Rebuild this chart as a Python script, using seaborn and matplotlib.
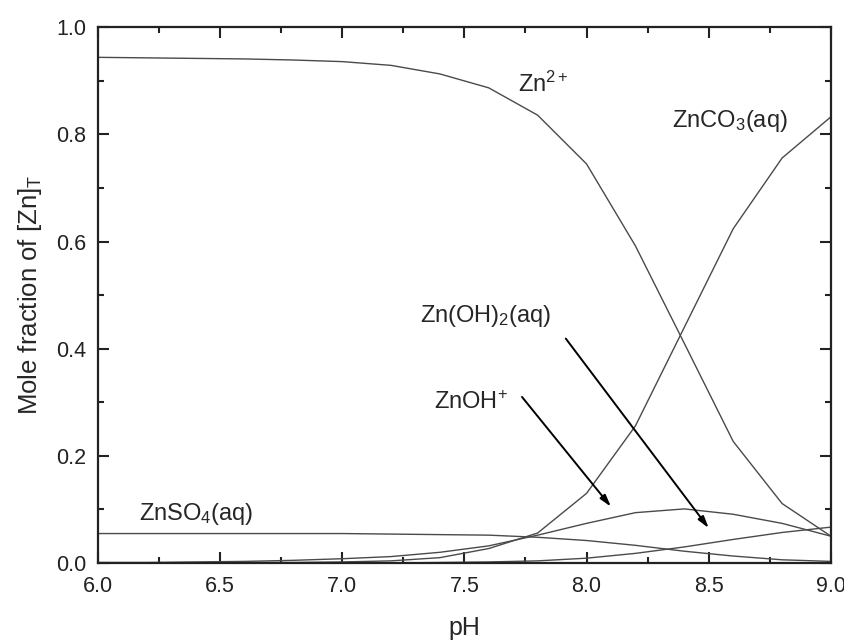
import numpy as np
import pandas as pd
import matplotlib
matplotlib.use("Agg")
import matplotlib.pyplot as plt
import seaborn as sns
from matplotlib.ticker import MultipleLocator, FormatStrFormatter

# speciation of zinc vs pH
ph = [6.0, 6.2, 6.4, 6.6, 6.8, 7.0, 7.2, 7.4, 7.6, 7.8, 8.0, 8.2, 8.4, 8.6, 8.8, 9.0]
zn2 = [0.944, 0.943, 0.942, 0.941, 0.939, 0.936, 0.929, 0.913, 0.887, 0.836,
       0.745, 0.592, 0.41, 0.227, 0.111, 0.05]
znco3 = [0.0, 0.0, 0.0, 0.001, 0.001, 0.002, 0.004, 0.010, 0.027, 0.056,
         0.130, 0.256, 0.44, 0.624, 0.756, 0.833]
znoh = [0.001, 0.001, 0.002, 0.003, 0.005, 0.008, 0.012, 0.02, 0.032, 0.052,
        0.074, 0.094, 0.101, 0.091, 0.074, 0.05]
znso4 = [0.055, 0.055, 0.055, 0.055, 0.055, 0.055, 0.054, 0.053, 0.052, 0.048,
         0.042, 0.033, 0.022, 0.013, 0.006, 0.003]
znoh2 = [0.0, 0.0, 0.0, 0.0, 0.0, 0.0, 0.0, 0.001, 0.002, 0.004,
         0.009, 0.018, 0.030, 0.044, 0.057, 0.067]

species = {
    "Zn2+": zn2,
    "ZnCO3": znco3,
    "ZnOH+": znoh,
    "ZnSO4": znso4,
    "Zn(OH)2": znoh2,
}

df = pd.concat(
    [pd.DataFrame({"pH": ph, "frac": v, "species": k}) for k, v in species.items()],
    ignore_index=True,
)

sns.set_style("ticks")
plt.rcParams["font.family"] = ["Liberation Sans", "DejaVu Sans"]
plt.rcParams["mathtext.fontset"] = "custom"
plt.rcParams["mathtext.rm"] = "Liberation Sans"
plt.rcParams["mathtext.it"] = "Liberation Sans"

fig = plt.figure(figsize=(8.45, 6.4), dpi=100)
ax = fig.add_axes([0.1156, 0.1203, 0.8678, 0.837])

sns.lineplot(data=df, x="pH", y="frac", units="species", estimator=None,
             color="#4a4a4a", linewidth=1.0, ax=ax, legend=False)

ax.set_xlim(6.0, 9.0)
ax.set_ylim(0.0, 1.0)
ax.xaxis.set_major_locator(MultipleLocator(0.5))
ax.xaxis.set_minor_locator(MultipleLocator(0.25))
ax.yaxis.set_major_locator(MultipleLocator(0.2))
ax.yaxis.set_minor_locator(MultipleLocator(0.1))
ax.xaxis.set_major_formatter(FormatStrFormatter("%.1f"))
ax.yaxis.set_major_formatter(FormatStrFormatter("%.1f"))
ax.tick_params(which="both", direction="in", top=True, right=True,
               width=1.5, colors="#222222", labelsize=15.5)
ax.tick_params(which="major", length=8)
ax.tick_params(which="minor", length=4.5)
ax.tick_params(axis="x", which="major", pad=9)
ax.tick_params(axis="y", which="major", pad=8)
for sp in ax.spines.values():
    sp.set_linewidth(1.6)
    sp.set_color("#222222")

ax.set_xlabel("pH", fontsize=18, labelpad=14)
ax.set_ylabel("Mole fraction of [Zn]$_\\mathregular{T}$", fontsize=18.5, labelpad=9)

fs = 17
ax.text(7.72, 0.880, "Zn$^{2+}$", fontsize=fs)
ax.text(8.35, 0.814, "ZnCO$_3$(aq)", fontsize=fs)
ax.text(7.32, 0.45, "Zn(OH)$_2$(aq)", fontsize=fs)
ax.text(7.375, 0.287, "ZnOH$^{+}$", fontsize=fs)
ax.text(6.17, 0.080, "ZnSO$_4$(aq)", fontsize=fs)

arrow = dict(arrowstyle="-|>,head_length=0.7,head_width=0.2", color="black", lw=1.4,
             shrinkA=0, shrinkB=0)
ax.annotate("", xy=(8.10, 0.105), xytext=(7.736, 0.31), arrowprops=arrow)
ax.annotate("", xy=(8.50, 0.065), xytext=(7.915, 0.419), arrowprops=arrow)

fig.savefig("out.png", dpi=100)
